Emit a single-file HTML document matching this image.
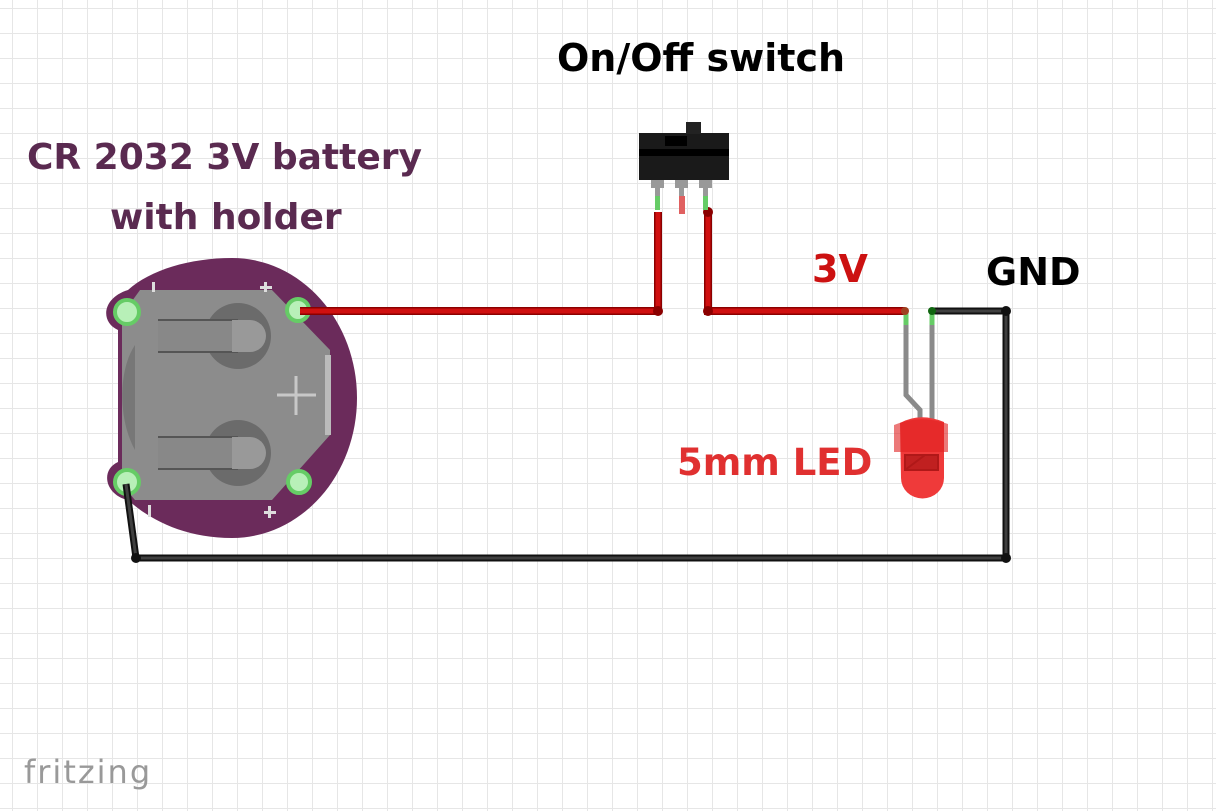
<!DOCTYPE html>
<html><head><meta charset="utf-8"><style>
html,body{margin:0;padding:0;background:#fff;}
body{width:1216px;height:811px;overflow:hidden;position:relative;
background-image:linear-gradient(to right,#e6e6e6 1px,transparent 1px),linear-gradient(to bottom,#e6e6e6 1px,transparent 1px);
background-size:25px 25px;background-position:12px 8px;}
.t{position:absolute;font-family:"DejaVu Sans","Liberation Sans",sans-serif;font-weight:bold;white-space:nowrap;}
</style></head><body>
<svg width="1216" height="811" style="position:absolute;left:0;top:0">
<!-- battery holder board -->
<path d="M232,258 A125,140 0 0 1 232,538 C185,538 150,520 128,500 C105,495 100,470 118,462 L118,330 C100,322 102,298 128,290 C150,270 190,258 232,258 Z" fill="#6b2b5b"/>
<path d="M140,290 L272,290 L330,350 L330,435 L272,500 L135,500 L122,485 L122,315 Z" fill="#8c8c8c"/>
<path d="M135,345 C118,370 118,420 135,450 Z" fill="#777"/>
<rect x="325" y="355" width="6" height="80" fill="#bbb"/>
<line x1="277" y1="395" x2="316" y2="395" stroke="#c8c8c8" stroke-width="3"/>
<line x1="296" y1="376" x2="296" y2="415" stroke="#c8c8c8" stroke-width="3"/>
<circle cx="238" cy="336" r="33" fill="#6b6b6b"/>
<rect x="158" y="320" width="80" height="32" fill="#888"/>
<line x1="158" y1="320" x2="238" y2="320" stroke="#555" stroke-width="2"/>
<line x1="158" y1="352" x2="238" y2="352" stroke="#555" stroke-width="2"/>
<path d="M232,320 L250,320 A16,16 0 0 1 250,352 L232,352 Z" fill="#999"/>
<circle cx="238" cy="453" r="33" fill="#6b6b6b"/>
<rect x="158" y="437" width="80" height="32" fill="#888"/>
<line x1="158" y1="437" x2="238" y2="437" stroke="#555" stroke-width="2"/>
<line x1="158" y1="469" x2="238" y2="469" stroke="#555" stroke-width="2"/>
<path d="M232,437 L250,437 A16,16 0 0 1 250,469 L232,469 Z" fill="#999"/>
<rect x="152" y="282" width="3" height="10" fill="#ddd"/>
<rect x="260" y="286" width="12" height="3" fill="#ddd"/><rect x="264" y="282" width="3" height="10" fill="#ddd"/>
<rect x="148" y="505" width="3" height="12" fill="#ddd"/>
<rect x="264" y="511" width="12" height="3" fill="#ddd"/><rect x="268" y="506" width="3" height="12" fill="#ddd"/>
<g fill="#b8f0b8" stroke="#6c6" stroke-width="4">
<circle cx="127" cy="312" r="12"/><circle cx="298" cy="310" r="11"/>
<circle cx="127" cy="482" r="12"/><circle cx="299" cy="482" r="11"/></g>
<!-- wires -->
<polyline points="300,311 658,311 658,212" fill="none" stroke="#8b0000" stroke-width="8" stroke-linejoin="round"/>
<polyline points="300,311 658,311 658,212" fill="none" stroke="#d01010" stroke-width="5"/>
<polyline points="708,212 708,311 905,311" fill="none" stroke="#8b0000" stroke-width="8"/>
<polyline points="708,212 708,311 905,311" fill="none" stroke="#d01010" stroke-width="5"/>
<circle cx="658" cy="311" r="5" fill="#8b0000"/><circle cx="708" cy="311" r="5" fill="#8b0000"/><circle cx="708" cy="212" r="5" fill="#8b0000"/>
<polyline points="932,311 1006,311 1006,558 136,558 126,484" fill="none" stroke="#111" stroke-width="7" stroke-linejoin="round"/>
<polyline points="932,311 1006,311 1006,558 136,558 126,484" fill="none" stroke="#404040" stroke-width="3"/>
<circle cx="1006" cy="311" r="5" fill="#111"/><circle cx="1006" cy="558" r="5" fill="#111"/><circle cx="136" cy="558" r="5" fill="#111"/>
<!-- switch -->
<rect x="639" y="133" width="90" height="47" fill="#1a1a1a"/>
<rect x="686" y="122" width="15" height="12" fill="#222"/>
<rect x="665" y="136" width="22" height="10" fill="#000"/>
<rect x="639" y="149" width="90" height="7" fill="#000"/>
<g fill="#999"><rect x="651" y="180" width="13" height="8"/><rect x="675" y="180" width="13" height="8"/><rect x="699" y="180" width="13" height="8"/></g>
<rect x="655" y="188" width="5" height="22" fill="#999"/><rect x="655" y="196" width="5" height="14" fill="#6c6"/>
<rect x="703" y="188" width="5" height="22" fill="#999"/><rect x="703" y="196" width="5" height="14" fill="#6c6"/>
<rect x="679" y="188" width="5" height="8" fill="#999"/><rect x="679" y="196" width="6" height="18" fill="#e06060"/>
<!-- LED -->
<polyline points="906,311 906,395 920,410 920,420" fill="none" stroke="#8a8a8a" stroke-width="5"/>
<line x1="932" y1="311" x2="932" y2="420" stroke="#8a8a8a" stroke-width="5"/>
<line x1="906" y1="311" x2="906" y2="325" stroke="#6c6" stroke-width="5"/>
<line x1="932" y1="311" x2="932" y2="325" stroke="#6c6" stroke-width="5"/>
<circle cx="905" cy="311" r="4" fill="#a04020"/><circle cx="932" cy="311" r="4" fill="#116611"/>
<path d="M900,423 Q920,412 944,422 L944,478 A21,20 0 0 1 901,478 Z" fill="#ef3a3a"/>
<path d="M894,425 Q920,414 948,424 L948,452 L894,452 Z" fill="#e02020" opacity="0.6"/>
<path d="M905,455 L938,455 L938,470 L905,470 Z M905,470 L925,455" fill="#c02020" stroke="#b01818" stroke-width="2"/>
</svg>
<div class="t" style="left:557px;top:36px;font-size:38px;color:#000;">On/Off switch</div>
<div class="t" style="left:27px;top:137px;font-size:36px;color:#5a2a50;">CR 2032 3V battery</div>
<div class="t" style="left:110px;top:197px;font-size:36px;color:#5a2a50;">with holder</div>
<div class="t" style="left:812px;top:247px;font-size:38px;color:#cc1111;">3V</div>
<div class="t" style="left:986px;top:250px;font-size:38px;color:#000;">GND</div>
<div class="t" style="left:677px;top:441px;font-size:37px;color:#e03030;">5mm LED</div>
<div class="t" style="left:24px;top:753px;font-size:32px;color:#999;font-weight:normal;letter-spacing:2px;">fritzing</div>
</body></html>
